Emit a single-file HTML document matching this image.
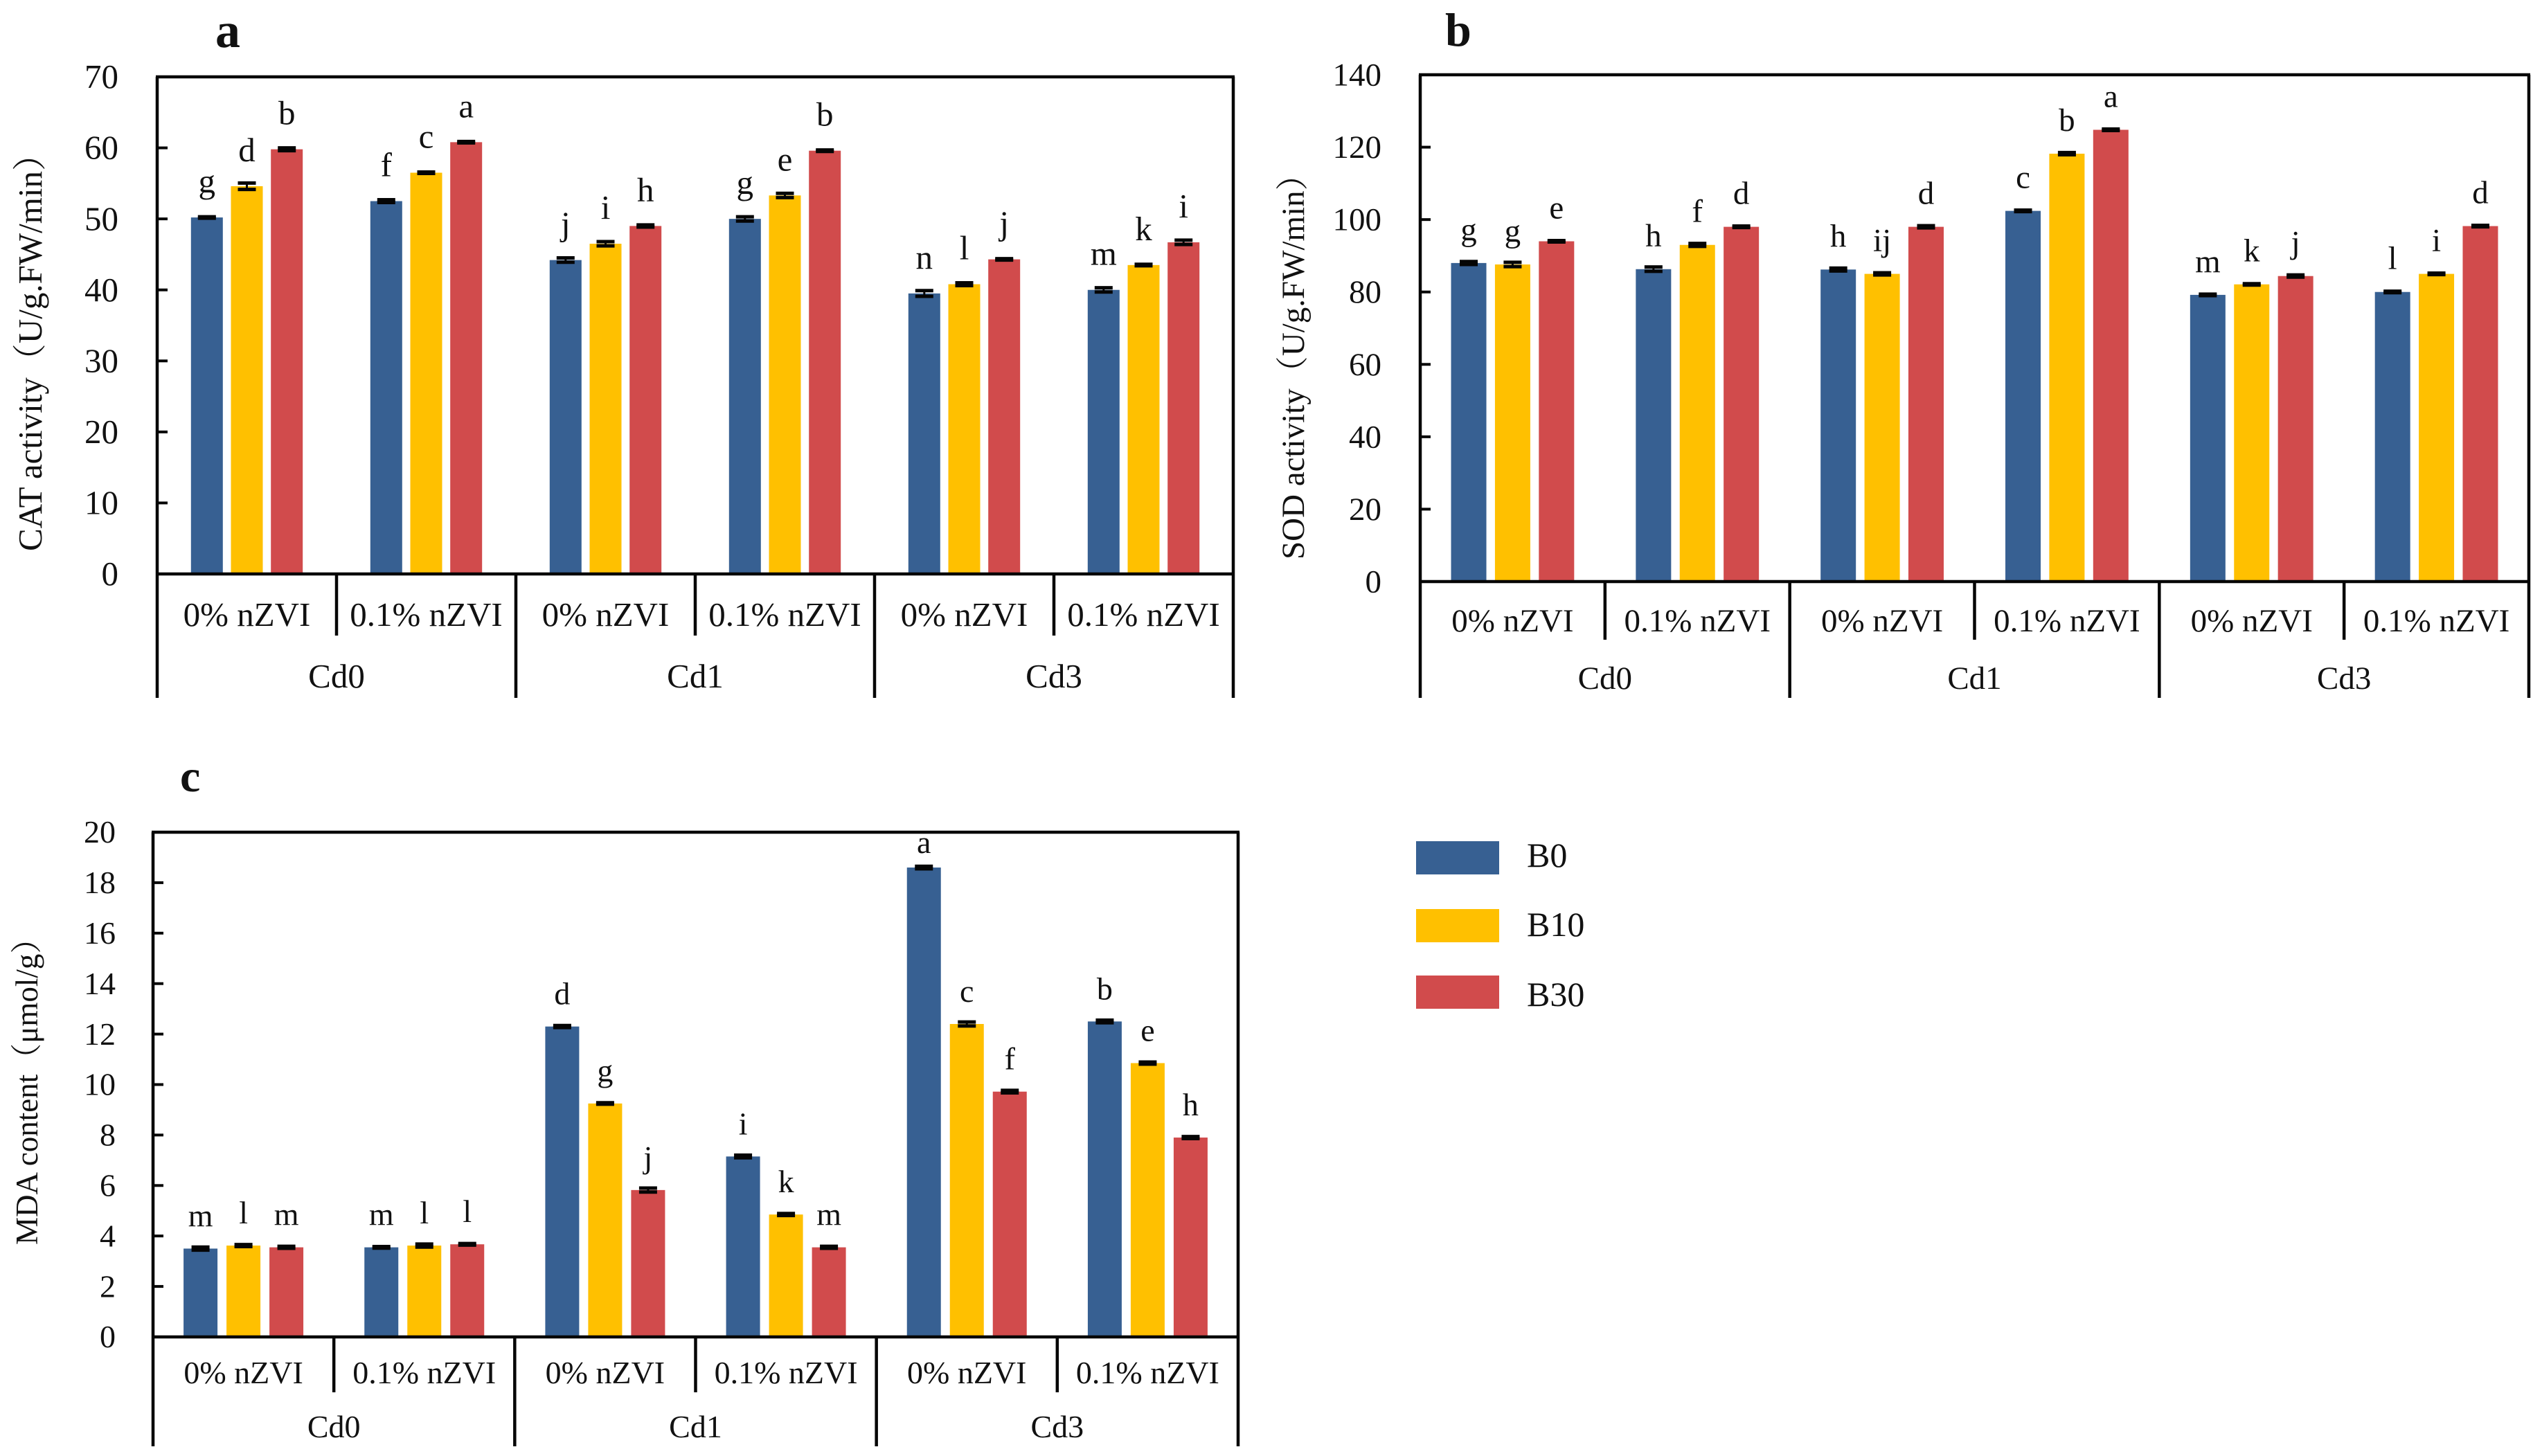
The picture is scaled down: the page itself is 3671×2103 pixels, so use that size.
<!DOCTYPE html>
<html lang="en">
<head>
<meta charset="utf-8">
<title>CAT, SOD and MDA bar charts</title>
<style>
html,body{margin:0;padding:0;background:#fff;}
#figure{display:block;width:3671px;height:2103px;background:#fff;}
text{font-family:"Liberation Serif","Noto Serif CJK SC",serif;fill:#111;}
</style>
</head>
<body>
<svg id="figure" xmlns="http://www.w3.org/2000/svg" width="3671" height="2103" viewBox="0 0 3671 2103">
  <rect x="0" y="0" width="3671" height="2103" fill="#fff"/>
  <g id="panel-a">
    <text x="311" y="68" font-size="72" font-weight="bold">a</text>
    <text transform="translate(60,796) rotate(-90)" font-size="49">CAT activity（U/g.FW/min）</text>
  </g>
  <g id="panel-b">
    <text x="2087" y="66" font-size="68" font-weight="bold">b</text>
    <text transform="translate(1883,808) rotate(-90)" font-size="47">SOD activity（U/g.FW/min）</text>
  </g>
  <g id="panel-c">
    <text x="260" y="1143" font-size="66" font-weight="bold">c</text>
    <text transform="translate(54,1798) rotate(-90)" font-size="45">MDA content（μmol/g）</text>
  </g>
  <g id="legend">
    <rect x="2045" y="1215" width="120" height="48" fill="#376092"/>
    <text x="2205" y="1252" font-size="50">B0</text>
    <rect x="2045" y="1313" width="120" height="48" fill="#FFC000"/>
    <text x="2205" y="1352" font-size="50">B10</text>
    <rect x="2045" y="1409" width="120" height="48" fill="#D14B4C"/>
    <text x="2205" y="1453" font-size="50">B30</text>
  </g>
</svg>
<script>
// Shared categories
const treatments = ["0% nZVI", "0.1% nZVI", "0% nZVI", "0.1% nZVI", "0% nZVI", "0.1% nZVI"];
const cdLevels = ["Cd0", "Cd1", "Cd3"];
const seriesNames = ["B0", "B10", "B30"];
const seriesColors = ["#376092", "#FFC000", "#D14B4C"];

// Panel a: CAT activity
const catTicks = [0, 10, 20, 30, 40, 50, 60, 70];
const catB0 = [50.2, 52.5, 44.2, 50.0, 39.5, 40.0];
const catB10 = [54.6, 56.5, 46.5, 53.3, 40.8, 43.5];
const catB30 = [59.8, 60.8, 49.0, 59.6, 44.3, 46.7];
const catErrB0 = [0.1, 0.2, 0.3, 0.3, 0.4, 0.3];
const catErrB10 = [0.45, 0.1, 0.3, 0.3, 0.2, 0.1];
const catErrB30 = [0.2, 0.1, 0.15, 0.1, 0.1, 0.3];
const catLetB0 = ["g", "f", "j", "g", "n", "m"];
const catLetB10 = ["d", "c", "i", "e", "l", "k"];
const catLetB30 = ["b", "a", "h", "b", "j", "i"];

// Panel b: SOD activity
const sodTicks = [0, 20, 40, 60, 80, 100, 120, 140];
const sodB0 = [88.0, 86.3, 86.2, 102.4, 79.2, 80.0];
const sodB10 = [87.6, 93.0, 85.0, 118.2, 82.1, 85.0];
const sodB30 = [94.0, 98.0, 98.0, 124.8, 84.4, 98.2];
const sodErrB0 = [0.4, 0.6, 0.4, 0.2, 0.2, 0.2];
const sodErrB10 = [0.6, 0.4, 0.3, 0.3, 0.2, 0.2];
const sodErrB30 = [0.2, 0.2, 0.3, 0.2, 0.3, 0.2];
const sodLetB0 = ["g", "h", "h", "c", "m", "l"];
const sodLetB10 = ["g", "f", "ij", "b", "k", "i"];
const sodLetB30 = ["e", "d", "d", "a", "j", "d"];

// Panel c: MDA content
const mdaTicks = [0, 2, 4, 6, 8, 10, 12, 14, 16, 18, 20];
const mdaB0 = [3.5, 3.55, 12.3, 7.15, 18.6, 12.5];
const mdaB10 = [3.62, 3.62, 9.25, 4.85, 12.4, 10.85];
const mdaB30 = [3.55, 3.67, 5.82, 3.55, 9.72, 7.9];
const mdaErrB0 = [0.06, 0.03, 0.04, 0.05, 0.05, 0.05];
const mdaErrB10 = [0.04, 0.06, 0.03, 0.04, 0.08, 0.04];
const mdaErrB30 = [0.04, 0.03, 0.08, 0.04, 0.05, 0.04];
const mdaLetB0 = ["m", "m", "d", "i", "a", "b"];
const mdaLetB10 = ["l", "l", "g", "k", "c", "e"];
const mdaLetB30 = ["m", "l", "j", "m", "f", "h"];

const NS = "http://www.w3.org/2000/svg";
const INK = "#050505";

function mk(parent, tag, attrs, txt) {
  const el = document.createElementNS(NS, tag);
  for (const k in attrs) el.setAttribute(k, attrs[k]);
  if (txt !== undefined) el.textContent = txt;
  parent.appendChild(el);
  return el;
}
function line(parent, x1, y1, x2, y2, w) {
  return mk(parent, "line", {x1: x1, y1: y1, x2: x2, y2: y2, stroke: INK, "stroke-width": w});
}

function drawPanel(id, prefix, g, values, errs, letters, ticks) {
  const root = document.getElementById(id);
  const yMax = ticks[ticks.length - 1];
  const yScale = v => g.bot - (v / yMax) * (g.bot - g.top);
  const subW = (g.right - g.left) / treatments.length;
  const xCenter = i => g.left + subW * (i + 0.5);

  // Bars, error bars, significance letters
  values.forEach((vals, s) => {
    vals.forEach((v, i) => {
      const cx = xCenter(i) + (s - 1) * g.pitch;
      const y = yScale(v);
      const bar = mk(root, "rect", {x: cx - g.barW / 2, y: y, width: g.barW, height: g.bot - y, fill: seriesColors[s]});
      
      

      const eg = mk(root, "g", {});
      
      
      const hi = yScale(v + errs[s][i]);
      const lo = yScale(v - errs[s][i]);
      line(eg, cx, hi, cx, lo, 3);
      line(eg, cx - g.cap, hi, cx + g.cap, hi, 5);
      line(eg, cx - g.cap, lo, cx + g.cap, lo, 5);

      const letterY = Math.max(y - g.letterGap, g.top + 30);
      const lab = mk(root, "text", {x: cx, y: letterY, "font-size": g.font, "text-anchor": "middle"}, letters[s][i]);
      
      
    });
  });

  // Frame
  const frame = mk(root, "g", {});
  
  
  line(frame, g.left, g.top, g.left, g.longEnd, 4.5);
  line(frame, g.right, g.top, g.right, g.longEnd, 4.5);
  line(frame, g.left - 2, g.top, g.right + 2, g.top, 4.5);
  line(frame, g.left - 2, g.bot, g.right + 2, g.bot, 4.5);

  // Y ticks
  ticks.forEach(t => {
    const y = yScale(t);
    if (t !== 0 && t !== yMax) {
      const tk = line(root, g.left, y, g.left + g.tickLen, y, 4);
      
      
    }
    const lb = mk(root, "text", {x: g.tickRight, y: y + g.font * 0.33, "font-size": g.font, "text-anchor": "end"}, String(t));
    
    
  });

  // Multi-level x axis
  treatments.forEach((name, i) => {
    const lb = mk(root, "text", {x: xCenter(i), y: g.subBase, "font-size": g.font, "text-anchor": "middle"}, name);
    
    
    if (i > 0) {
      const end = i % 2 === 1 ? g.shortEnd : g.longEnd;
      const sep = line(root, g.left + subW * i, g.bot, g.left + subW * i, end, 4.5);
      
      
    }
  });
  cdLevels.forEach((name, i) => {
    const lb = mk(root, "text", {x: g.left + subW * (2 * i + 1), y: g.groupBase, "font-size": g.font, "text-anchor": "middle"}, name);
    
    
  });
}

drawPanel("panel-a", "cat",
  {left: 227, right: 1781, top: 111, bot: 829, barW: 46, pitch: 57.7, cap: 13, font: 49, letterGap: 36,
   tickLen: 15, tickRight: 171, subBase: 904, groupBase: 993, shortEnd: 918, longEnd: 1008},
  [catB0, catB10, catB30], [catErrB0, catErrB10, catErrB30], [catLetB0, catLetB10, catLetB30], catTicks);

drawPanel("panel-b", "sod",
  {left: 2051, right: 3652, top: 108, bot: 840, barW: 51, pitch: 63.4, cap: 13, font: 47, letterGap: 33,
   tickLen: 15, tickRight: 1995, subBase: 912, groupBase: 995, shortEnd: 924, longEnd: 1008},
  [sodB0, sodB10, sodB30], [sodErrB0, sodErrB10, sodErrB30], [sodLetB0, sodLetB10, sodLetB30], sodTicks);

drawPanel("panel-c", "mda",
  {left: 221, right: 1788, top: 1202, bot: 1931, barW: 49, pitch: 62, cap: 13, font: 46, letterGap: 32,
   tickLen: 15, tickRight: 167, subBase: 1998, groupBase: 2076, shortEnd: 2011, longEnd: 2089},
  [mdaB0, mdaB10, mdaB30], [mdaErrB0, mdaErrB10, mdaErrB30], [mdaLetB0, mdaLetB10, mdaLetB30], mdaTicks);
</script>
</body>
</html>
